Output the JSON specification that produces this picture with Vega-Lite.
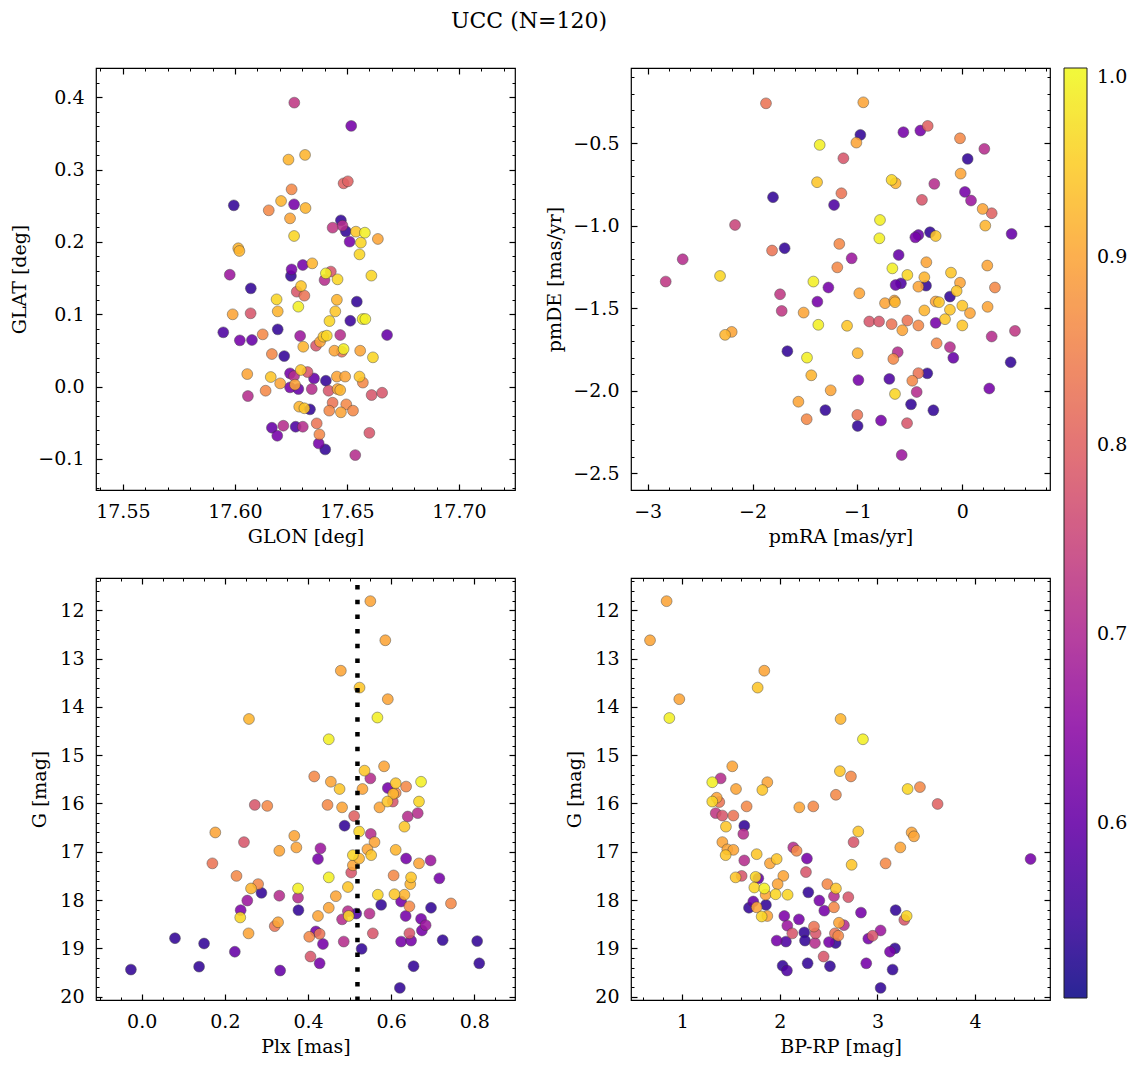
{
"$schema":"https://vega.github.io/schema/vega-lite/v6.json",
"padding":{"left":10,"top":9,"right":10,"bottom":5},
"title":{"text":"UCC (N=120)","anchor":"start","dx":355,"fontSize":22,"font":"DejaVu Serif","fontWeight":"normal","offset":34,"color":"black","frame":"group"},
"datasets":{
"p1":[
{"GLON":17.6265,"GLAT":0.3926,"p":0.73},{"GLON":17.6519,"GLAT":0.3604,"p":0.62},{"GLON":17.6239,"GLAT":0.3138,"p":0.92},{"GLON":17.6313,"GLAT":0.3203,"p":0.92},{"GLON":17.6485,"GLAT":0.281,"p":0.80},{"GLON":17.6504,"GLAT":0.2838,"p":0.80},{"GLON":17.6253,"GLAT":0.2727,"p":0.86},{"GLON":17.5995,"GLAT":0.2506,"p":0.54},{"GLON":17.6206,"GLAT":0.2566,"p":0.92},{"GLON":17.6264,"GLAT":0.252,"p":0.62},
{"GLON":17.6151,"GLAT":0.2437,"p":0.86},{"GLON":17.6315,"GLAT":0.2469,"p":0.92},{"GLON":17.6246,"GLAT":0.2326,"p":0.90},{"GLON":17.6264,"GLAT":0.2082,"p":0.96},{"GLON":17.6473,"GLAT":0.2299,"p":0.54},{"GLON":17.6436,"GLAT":0.2197,"p":0.73},{"GLON":17.648,"GLAT":0.2225,"p":0.71},{"GLON":17.6495,"GLAT":0.2147,"p":0.54},{"GLON":17.654,"GLAT":0.2142,"p":0.94},{"GLON":17.658,"GLAT":0.2128,"p":0.99},
{"GLON":17.6638,"GLAT":0.2041,"p":0.90},{"GLON":17.6512,"GLAT":0.2004,"p":0.62},{"GLON":17.6562,"GLAT":0.199,"p":0.96},{"GLON":17.6556,"GLAT":0.1828,"p":0.96},{"GLON":17.6015,"GLAT":0.1912,"p":0.92},{"GLON":17.602,"GLAT":0.1875,"p":0.92},{"GLON":17.5977,"GLAT":0.1547,"p":0.67},{"GLON":17.6253,"GLAT":0.162,"p":0.62},{"GLON":17.625,"GLAT":0.153,"p":0.54},{"GLON":17.6303,"GLAT":0.1681,"p":0.62},
{"GLON":17.6345,"GLAT":0.1704,"p":0.92},{"GLON":17.6406,"GLAT":0.1566,"p":0.99},{"GLON":17.6428,"GLAT":0.159,"p":0.78},{"GLON":17.6458,"GLAT":0.1483,"p":0.96},{"GLON":17.6609,"GLAT":0.1534,"p":0.96},{"GLON":17.64,"GLAT":0.1473,"p":0.71},{"GLON":17.6071,"GLAT":0.1358,"p":0.54},{"GLON":17.6295,"GLAT":0.139,"p":0.94},{"GLON":17.6276,"GLAT":0.1312,"p":0.78},{"GLON":17.631,"GLAT":0.1257,"p":0.83},
{"GLON":17.6186,"GLAT":0.1206,"p":0.96},{"GLON":17.6455,"GLAT":0.12,"p":0.92},{"GLON":17.6544,"GLAT":0.1174,"p":0.54},{"GLON":17.6283,"GLAT":0.1105,"p":0.99},{"GLON":17.599,"GLAT":0.0999,"p":0.90},{"GLON":17.607,"GLAT":0.1013,"p":0.78},{"GLON":17.6191,"GLAT":0.104,"p":0.92},{"GLON":17.6448,"GLAT":0.104,"p":0.94},{"GLON":17.6422,"GLAT":0.0906,"p":0.96},{"GLON":17.6515,"GLAT":0.091,"p":0.55},
{"GLON":17.657,"GLAT":0.0934,"p":0.99},{"GLON":17.6582,"GLAT":0.0934,"p":0.99},{"GLON":17.5948,"GLAT":0.075,"p":0.57},{"GLON":17.6022,"GLAT":0.0639,"p":0.62},{"GLON":17.6076,"GLAT":0.0644,"p":0.60},{"GLON":17.6124,"GLAT":0.0722,"p":0.86},{"GLON":17.6191,"GLAT":0.0791,"p":0.54},{"GLON":17.6291,"GLAT":0.07,"p":0.67},{"GLON":17.6395,"GLAT":0.069,"p":0.94},{"GLON":17.641,"GLAT":0.0704,"p":0.96},
{"GLON":17.647,"GLAT":0.0713,"p":0.71},{"GLON":17.6362,"GLAT":0.0565,"p":0.78},{"GLON":17.638,"GLAT":0.062,"p":0.90},{"GLON":17.6305,"GLAT":0.0551,"p":0.92},{"GLON":17.6679,"GLAT":0.0713,"p":0.60},{"GLON":17.6165,"GLAT":0.045,"p":0.86},{"GLON":17.622,"GLAT":0.0422,"p":0.54},{"GLON":17.6444,"GLAT":0.0496,"p":0.90},{"GLON":17.6485,"GLAT":0.0519,"p":0.99},{"GLON":17.6477,"GLAT":0.0482,"p":0.83},
{"GLON":17.6559,"GLAT":0.0496,"p":0.90},{"GLON":17.6616,"GLAT":0.0404,"p":0.96},{"GLON":17.6055,"GLAT":0.0173,"p":0.90},{"GLON":17.616,"GLAT":0.0132,"p":0.94},{"GLON":17.6202,"GLAT":0.0044,"p":0.90},{"GLON":17.6246,"GLAT":0.0183,"p":0.62},{"GLON":17.6264,"GLAT":0.0146,"p":0.71},{"GLON":17.6294,"GLAT":0.0229,"p":0.94},{"GLON":17.6324,"GLAT":0.0201,"p":0.78},{"GLON":17.6353,"GLAT":0.0113,"p":0.60},
{"GLON":17.6406,"GLAT":0.0081,"p":0.54},{"GLON":17.6246,"GLAT":-0.0011,"p":0.62},{"GLON":17.6268,"GLAT":0.0026,"p":0.90},{"GLON":17.6283,"GLAT":-0.0034,"p":0.60},{"GLON":17.6343,"GLAT":-0.0034,"p":0.71},{"GLON":17.6455,"GLAT":0.0138,"p":0.90},{"GLON":17.6492,"GLAT":0.0138,"p":0.90},{"GLON":17.6556,"GLAT":0.0138,"p":0.94},{"GLON":17.6571,"GLAT":0.0055,"p":0.86},{"GLON":17.6418,"GLAT":-0.0057,"p":0.78},
{"GLON":17.6458,"GLAT":-0.0034,"p":0.90},{"GLON":17.647,"GLAT":-0.0048,"p":0.92},{"GLON":17.6058,"GLAT":-0.0131,"p":0.71},{"GLON":17.6137,"GLAT":-0.0057,"p":0.86},{"GLON":17.661,"GLAT":-0.0117,"p":0.78},{"GLON":17.6657,"GLAT":-0.0085,"p":0.78},{"GLON":17.6287,"GLAT":-0.0278,"p":0.92},{"GLON":17.631,"GLAT":-0.03,"p":0.94},{"GLON":17.6335,"GLAT":-0.0315,"p":0.54},{"GLON":17.6436,"GLAT":-0.0223,"p":0.83},
{"GLON":17.6421,"GLAT":-0.0333,"p":0.86},{"GLON":17.6473,"GLAT":-0.0356,"p":0.90},{"GLON":17.6497,"GLAT":-0.0246,"p":0.86},{"GLON":17.6527,"GLAT":-0.0333,"p":0.86},{"GLON":17.6165,"GLAT":-0.0569,"p":0.60},{"GLON":17.6216,"GLAT":-0.0541,"p":0.71},{"GLON":17.6189,"GLAT":-0.068,"p":0.62},{"GLON":17.6271,"GLAT":-0.0555,"p":0.57},{"GLON":17.6303,"GLAT":-0.0555,"p":0.71},{"GLON":17.6365,"GLAT":-0.0509,"p":0.83},
{"GLON":17.6377,"GLAT":-0.0661,"p":0.86},{"GLON":17.6374,"GLAT":-0.0786,"p":0.62},{"GLON":17.6403,"GLAT":-0.0869,"p":0.54},{"GLON":17.66,"GLAT":-0.064,"p":0.78},{"GLON":17.6537,"GLAT":-0.0947,"p":0.71}
],
"p2":[
{"pmRA":-1.872,"pmDE":-0.258,"p":0.83},{"pmRA":-0.944,"pmDE":-0.252,"p":0.90},{"pmRA":-0.972,"pmDE":-0.449,"p":0.54},{"pmRA":-1.010,"pmDE":-0.496,"p":0.90},{"pmRA":-1.360,"pmDE":-0.510,"p":0.99},{"pmRA":-0.562,"pmDE":-0.433,"p":0.62},{"pmRA":-0.400,"pmDE":-0.423,"p":0.62},{"pmRA":-0.330,"pmDE":-0.395,"p":0.80},{"pmRA":-0.022,"pmDE":-0.470,"p":0.86},{"pmRA":0.210,"pmDE":-0.534,"p":0.71},
{"pmRA":0.051,"pmDE":-0.595,"p":0.54},{"pmRA":-1.134,"pmDE":-0.591,"p":0.78},{"pmRA":-0.016,"pmDE":-0.684,"p":0.90},{"pmRA":-1.385,"pmDE":-0.736,"p":0.94},{"pmRA":-0.674,"pmDE":-0.722,"p":0.96},{"pmRA":-0.636,"pmDE":-0.742,"p":0.92},{"pmRA":-0.267,"pmDE":-0.746,"p":0.71},{"pmRA":0.025,"pmDE":-0.795,"p":0.62},{"pmRA":0.083,"pmDE":-0.847,"p":0.67},{"pmRA":-1.153,"pmDE":-0.803,"p":0.83},
{"pmRA":-1.805,"pmDE":-0.827,"p":0.54},{"pmRA":-1.223,"pmDE":-0.874,"p":0.57},{"pmRA":-0.385,"pmDE":-0.843,"p":0.78},{"pmRA":0.194,"pmDE":-0.898,"p":0.90},{"pmRA":0.280,"pmDE":-0.924,"p":0.80},{"pmRA":0.219,"pmDE":-0.999,"p":0.92},{"pmRA":-0.785,"pmDE":-0.965,"p":0.99},{"pmRA":-0.791,"pmDE":-1.076,"p":0.99},{"pmRA":-2.167,"pmDE":-0.995,"p":0.75},{"pmRA":-0.448,"pmDE":-1.070,"p":0.62},
{"pmRA":-0.419,"pmDE":-1.056,"p":0.60},{"pmRA":-0.308,"pmDE":-1.039,"p":0.54},{"pmRA":-0.254,"pmDE":-1.062,"p":0.94},{"pmRA":0.470,"pmDE":-1.049,"p":0.60},{"pmRA":-1.814,"pmDE":-1.150,"p":0.83},{"pmRA":-1.694,"pmDE":-1.136,"p":0.54},{"pmRA":-1.173,"pmDE":-1.110,"p":0.86},{"pmRA":-2.666,"pmDE":-1.203,"p":0.71},{"pmRA":-1.055,"pmDE":-1.197,"p":0.67},{"pmRA":-0.607,"pmDE":-1.177,"p":0.60},
{"pmRA":-0.343,"pmDE":-1.221,"p":0.90},{"pmRA":-1.192,"pmDE":-1.252,"p":0.86},{"pmRA":-0.667,"pmDE":-1.258,"p":0.99},{"pmRA":-0.524,"pmDE":-1.298,"p":0.96},{"pmRA":0.238,"pmDE":-1.241,"p":0.90},{"pmRA":-0.108,"pmDE":-1.284,"p":0.94},{"pmRA":-0.362,"pmDE":-1.312,"p":0.92},{"pmRA":-2.310,"pmDE":-1.304,"p":0.96},{"pmRA":-1.420,"pmDE":-1.338,"p":0.99},{"pmRA":-2.828,"pmDE":-1.338,"p":0.73},
{"pmRA":-1.277,"pmDE":-1.374,"p":0.62},{"pmRA":-0.636,"pmDE":-1.359,"p":0.60},{"pmRA":-0.585,"pmDE":-1.349,"p":0.57},{"pmRA":-0.419,"pmDE":-1.369,"p":0.90},{"pmRA":-0.346,"pmDE":-1.363,"p":0.54},{"pmRA":-0.022,"pmDE":-1.345,"p":0.90},{"pmRA":-0.054,"pmDE":-1.395,"p":0.94},{"pmRA":-0.118,"pmDE":-1.429,"p":0.54},{"pmRA":0.311,"pmDE":-1.374,"p":0.86},{"pmRA":-1.738,"pmDE":-1.415,"p":0.73},
{"pmRA":-1.722,"pmDE":-1.516,"p":0.73},{"pmRA":-1.382,"pmDE":-1.460,"p":0.62},{"pmRA":-1.513,"pmDE":-1.526,"p":0.90},{"pmRA":-0.982,"pmDE":-1.409,"p":0.90},{"pmRA":-0.737,"pmDE":-1.469,"p":0.90},{"pmRA":-0.648,"pmDE":-1.453,"p":0.90},{"pmRA":-0.642,"pmDE":-1.463,"p":0.92},{"pmRA":-0.254,"pmDE":-1.459,"p":0.90},{"pmRA":-0.222,"pmDE":-1.463,"p":0.94},{"pmRA":0.000,"pmDE":-1.484,"p":0.94},
{"pmRA":0.241,"pmDE":-1.491,"p":0.90},{"pmRA":-0.362,"pmDE":-1.513,"p":0.92},{"pmRA":-0.118,"pmDE":-1.509,"p":0.94},{"pmRA":0.073,"pmDE":-1.529,"p":0.90},{"pmRA":-1.373,"pmDE":-1.600,"p":0.99},{"pmRA":-1.099,"pmDE":-1.606,"p":0.94},{"pmRA":-0.887,"pmDE":-1.580,"p":0.78},{"pmRA":-0.794,"pmDE":-1.580,"p":0.78},{"pmRA":-0.674,"pmDE":-1.596,"p":0.83},{"pmRA":-0.572,"pmDE":-1.633,"p":0.90},
{"pmRA":-0.524,"pmDE":-1.574,"p":0.83},{"pmRA":-0.419,"pmDE":-1.604,"p":0.86},{"pmRA":-0.254,"pmDE":-1.588,"p":0.62},{"pmRA":-0.165,"pmDE":-1.566,"p":0.94},{"pmRA":0.000,"pmDE":-1.604,"p":0.94},{"pmRA":-2.262,"pmDE":-1.661,"p":0.92},{"pmRA":-2.199,"pmDE":-1.643,"p":0.90},{"pmRA":0.280,"pmDE":-1.671,"p":0.71},{"pmRA":0.502,"pmDE":-1.637,"p":0.73},{"pmRA":-0.245,"pmDE":-1.712,"p":0.86},
{"pmRA":-1.668,"pmDE":-1.760,"p":0.54},{"pmRA":-0.998,"pmDE":-1.772,"p":0.92},{"pmRA":-0.616,"pmDE":-1.766,"p":0.71},{"pmRA":-0.658,"pmDE":-1.807,"p":0.86},{"pmRA":-0.118,"pmDE":-1.735,"p":0.71},{"pmRA":-0.086,"pmDE":-1.800,"p":0.60},{"pmRA":0.461,"pmDE":-1.827,"p":0.54},{"pmRA":-1.481,"pmDE":-1.799,"p":0.99},{"pmRA":-1.440,"pmDE":-1.906,"p":0.92},{"pmRA":-0.991,"pmDE":-1.935,"p":0.62},
{"pmRA":-0.696,"pmDE":-1.928,"p":0.57},{"pmRA":-0.419,"pmDE":-1.893,"p":0.83},{"pmRA":-0.477,"pmDE":-1.939,"p":0.86},{"pmRA":-0.334,"pmDE":-1.894,"p":0.54},{"pmRA":-1.255,"pmDE":-1.997,"p":0.90},{"pmRA":-0.642,"pmDE":-2.019,"p":0.96},{"pmRA":-0.435,"pmDE":-2.007,"p":0.71},{"pmRA":0.257,"pmDE":-1.986,"p":0.62},{"pmRA":-1.563,"pmDE":-2.066,"p":0.90},{"pmRA":-1.306,"pmDE":-2.117,"p":0.54},
{"pmRA":-1.484,"pmDE":-2.172,"p":0.86},{"pmRA":-0.489,"pmDE":-2.082,"p":0.54},{"pmRA":-0.276,"pmDE":-2.118,"p":0.54},{"pmRA":-1.001,"pmDE":-2.146,"p":0.83},{"pmRA":-0.998,"pmDE":-2.213,"p":0.54},{"pmRA":-0.775,"pmDE":-2.180,"p":0.62},{"pmRA":-0.527,"pmDE":-2.196,"p":0.78},{"pmRA":-0.578,"pmDE":-2.389,"p":0.67}
],
"p3":[
{"Plx":0.550,"G":11.81,"p":0.90},{"Plx":0.586,"G":12.62,"p":0.90},{"Plx":0.479,"G":13.25,"p":0.90},{"Plx":0.524,"G":13.60,"p":0.94},{"Plx":0.592,"G":13.84,"p":0.90},{"Plx":0.258,"G":14.25,"p":0.92},{"Plx":0.567,"G":14.22,"p":0.99},{"Plx":0.450,"G":14.67,"p":0.99},{"Plx":0.583,"G":15.23,"p":0.90},{"Plx":0.536,"G":15.32,"p":0.94},
{"Plx":0.550,"G":15.48,"p":0.71},{"Plx":0.415,"G":15.44,"p":0.86},{"Plx":0.455,"G":15.55,"p":0.90},{"Plx":0.672,"G":15.55,"p":0.99},{"Plx":0.476,"G":15.70,"p":0.94},{"Plx":0.531,"G":15.70,"p":0.90},{"Plx":0.592,"G":15.68,"p":0.62},{"Plx":0.611,"G":15.58,"p":0.94},{"Plx":0.636,"G":15.65,"p":0.86},{"Plx":0.447,"G":16.03,"p":0.86},
{"Plx":0.605,"G":15.80,"p":0.92},{"Plx":0.611,"G":15.78,"p":0.86},{"Plx":0.272,"G":16.03,"p":0.78},{"Plx":0.302,"G":16.05,"p":0.86},{"Plx":0.482,"G":16.08,"p":0.90},{"Plx":0.511,"G":16.26,"p":0.80},{"Plx":0.572,"G":16.08,"p":0.90},{"Plx":0.591,"G":15.96,"p":0.94},{"Plx":0.604,"G":15.96,"p":0.78},{"Plx":0.667,"G":15.96,"p":0.96},
{"Plx":0.640,"G":16.27,"p":0.71},{"Plx":0.664,"G":16.20,"p":0.71},{"Plx":0.488,"G":16.46,"p":0.54},{"Plx":0.523,"G":16.58,"p":0.96},{"Plx":0.551,"G":16.63,"p":0.71},{"Plx":0.560,"G":16.80,"p":0.90},{"Plx":0.632,"G":16.48,"p":0.94},{"Plx":0.177,"G":16.60,"p":0.90},{"Plx":0.246,"G":16.80,"p":0.78},{"Plx":0.367,"G":16.67,"p":0.90},
{"Plx":0.372,"G":16.91,"p":0.90},{"Plx":0.331,"G":16.98,"p":0.90},{"Plx":0.430,"G":16.93,"p":0.67},{"Plx":0.424,"G":17.15,"p":0.62},{"Plx":0.543,"G":16.95,"p":0.90},{"Plx":0.508,"G":17.07,"p":0.96},{"Plx":0.523,"G":17.14,"p":0.92},{"Plx":0.552,"G":17.07,"p":0.94},{"Plx":0.611,"G":16.96,"p":0.92},{"Plx":0.636,"G":17.14,"p":0.62},
{"Plx":0.667,"G":17.24,"p":0.90},{"Plx":0.695,"G":17.18,"p":0.67},{"Plx":0.170,"G":17.24,"p":0.83},{"Plx":0.508,"G":17.28,"p":0.90},{"Plx":0.504,"G":17.43,"p":0.78},{"Plx":0.228,"G":17.50,"p":0.86},{"Plx":0.606,"G":17.49,"p":0.86},{"Plx":0.648,"G":17.53,"p":0.94},{"Plx":0.646,"G":17.67,"p":0.92},{"Plx":0.450,"G":17.53,"p":0.99},
{"Plx":0.716,"G":17.55,"p":0.62},{"Plx":0.263,"G":17.76,"p":0.92},{"Plx":0.280,"G":17.67,"p":0.86},{"Plx":0.288,"G":17.85,"p":0.54},{"Plx":0.376,"G":17.76,"p":0.99},{"Plx":0.331,"G":17.91,"p":0.71},{"Plx":0.376,"G":17.95,"p":0.71},{"Plx":0.467,"G":17.92,"p":0.90},{"Plx":0.496,"G":17.73,"p":0.94},{"Plx":0.568,"G":17.89,"p":0.96},
{"Plx":0.608,"G":17.88,"p":0.94},{"Plx":0.632,"G":17.89,"p":0.92},{"Plx":0.254,"G":18.01,"p":0.67},{"Plx":0.238,"G":18.21,"p":0.63},{"Plx":0.237,"G":18.36,"p":0.96},{"Plx":0.377,"G":18.21,"p":0.54},{"Plx":0.450,"G":18.16,"p":0.90},{"Plx":0.424,"G":18.33,"p":0.90},{"Plx":0.496,"G":18.23,"p":0.71},{"Plx":0.498,"G":18.33,"p":0.96},
{"Plx":0.516,"G":18.28,"p":0.57},{"Plx":0.548,"G":18.28,"p":0.71},{"Plx":0.576,"G":18.10,"p":0.54},{"Plx":0.624,"G":18.03,"p":0.62},{"Plx":0.644,"G":18.13,"p":0.86},{"Plx":0.696,"G":18.16,"p":0.54},{"Plx":0.744,"G":18.07,"p":0.86},{"Plx":0.635,"G":18.33,"p":0.62},{"Plx":0.672,"G":18.39,"p":0.62},{"Plx":0.683,"G":18.52,"p":0.67},
{"Plx":0.674,"G":18.63,"p":0.62},{"Plx":0.328,"G":18.46,"p":0.90},{"Plx":0.320,"G":18.54,"p":0.83},{"Plx":0.482,"G":18.40,"p":0.71},{"Plx":0.257,"G":18.69,"p":0.90},{"Plx":0.080,"G":18.79,"p":0.54},{"Plx":0.150,"G":18.90,"p":0.54},{"Plx":0.224,"G":19.07,"p":0.60},{"Plx":0.403,"G":18.76,"p":0.86},{"Plx":0.419,"G":18.65,"p":0.62},
{"Plx":0.428,"G":18.70,"p":0.83},{"Plx":0.436,"G":18.91,"p":0.62},{"Plx":0.486,"G":18.86,"p":0.71},{"Plx":0.529,"G":19.01,"p":0.54},{"Plx":0.556,"G":18.69,"p":0.78},{"Plx":0.624,"G":18.86,"p":0.62},{"Plx":0.648,"G":18.84,"p":0.62},{"Plx":0.644,"G":18.69,"p":0.78},{"Plx":0.724,"G":18.83,"p":0.54},{"Plx":0.807,"G":18.85,"p":0.54},
{"Plx":-0.026,"G":19.44,"p":0.54},{"Plx":0.138,"G":19.38,"p":0.54},{"Plx":0.333,"G":19.46,"p":0.60},{"Plx":0.406,"G":19.17,"p":0.78},{"Plx":0.428,"G":19.31,"p":0.62},{"Plx":0.654,"G":19.37,"p":0.54},{"Plx":0.812,"G":19.31,"p":0.54},{"Plx":0.621,"G":19.82,"p":0.54}
],
"p4":[
{"BPRP":0.839,"G":11.81,"p":0.90},{"BPRP":0.669,"G":12.62,"p":0.90},{"BPRP":1.840,"G":13.25,"p":0.90},{"BPRP":1.772,"G":13.60,"p":0.94},{"BPRP":0.969,"G":13.84,"p":0.90},{"BPRP":0.867,"G":14.23,"p":0.99},{"BPRP":2.622,"G":14.25,"p":0.92},{"BPRP":2.851,"G":14.67,"p":0.99},{"BPRP":1.512,"G":15.23,"p":0.90},{"BPRP":2.615,"G":15.33,"p":0.94},
{"BPRP":2.728,"G":15.44,"p":0.86},{"BPRP":1.393,"G":15.48,"p":0.71},{"BPRP":1.307,"G":15.56,"p":0.99},{"BPRP":1.871,"G":15.56,"p":0.90},{"BPRP":1.550,"G":15.70,"p":0.90},{"BPRP":1.820,"G":15.72,"p":0.94},{"BPRP":3.309,"G":15.70,"p":0.96},{"BPRP":3.435,"G":15.66,"p":0.86},{"BPRP":1.352,"G":15.88,"p":0.90},{"BPRP":1.379,"G":15.97,"p":0.83},
{"BPRP":2.574,"G":15.82,"p":0.86},{"BPRP":3.616,"G":16.01,"p":0.80},{"BPRP":1.307,"G":15.96,"p":0.96},{"BPRP":1.659,"G":16.06,"p":0.86},{"BPRP":2.199,"G":16.08,"p":0.90},{"BPRP":2.342,"G":16.06,"p":0.86},{"BPRP":1.342,"G":16.20,"p":0.73},{"BPRP":1.410,"G":16.25,"p":0.78},{"BPRP":1.523,"G":16.25,"p":0.83},{"BPRP":1.635,"G":16.46,"p":0.54},
{"BPRP":1.625,"G":16.63,"p":0.71},{"BPRP":1.447,"G":16.48,"p":0.94},{"BPRP":2.803,"G":16.58,"p":0.94},{"BPRP":2.755,"G":16.80,"p":0.78},{"BPRP":3.350,"G":16.60,"p":0.90},{"BPRP":3.374,"G":16.68,"p":0.90},{"BPRP":3.234,"G":16.91,"p":0.90},{"BPRP":1.410,"G":16.80,"p":0.90},{"BPRP":1.461,"G":16.95,"p":0.90},{"BPRP":1.523,"G":16.96,"p":0.90},
{"BPRP":1.444,"G":17.07,"p":0.94},{"BPRP":1.762,"G":17.05,"p":0.94},{"BPRP":1.635,"G":17.18,"p":0.71},{"BPRP":1.898,"G":17.24,"p":0.90},{"BPRP":1.967,"G":17.15,"p":0.94},{"BPRP":2.137,"G":16.91,"p":0.71},{"BPRP":2.171,"G":16.98,"p":0.86},{"BPRP":2.277,"G":17.14,"p":0.62},{"BPRP":2.267,"G":17.42,"p":0.78},{"BPRP":2.735,"G":17.27,"p":0.94},
{"BPRP":3.083,"G":17.24,"p":0.86},{"BPRP":4.569,"G":17.15,"p":0.62},{"BPRP":1.546,"G":17.53,"p":0.94},{"BPRP":1.608,"G":17.50,"p":0.78},{"BPRP":1.751,"G":17.52,"p":0.96},{"BPRP":1.779,"G":17.55,"p":0.60},{"BPRP":2.035,"G":17.50,"p":0.90},{"BPRP":1.977,"G":17.67,"p":0.90},{"BPRP":1.738,"G":17.74,"p":0.96},{"BPRP":1.840,"G":17.76,"p":0.99},
{"BPRP":1.854,"G":17.89,"p":0.90},{"BPRP":1.956,"G":17.88,"p":0.96},{"BPRP":2.079,"G":17.89,"p":0.96},{"BPRP":2.486,"G":17.67,"p":0.86},{"BPRP":2.574,"G":17.76,"p":0.94},{"BPRP":2.291,"G":17.84,"p":0.54},{"BPRP":2.404,"G":18.01,"p":0.62},{"BPRP":2.554,"G":17.92,"p":0.71},{"BPRP":2.701,"G":17.94,"p":0.78},{"BPRP":2.455,"G":18.22,"p":0.62},
{"BPRP":2.554,"G":18.15,"p":0.86},{"BPRP":1.727,"G":18.03,"p":0.60},{"BPRP":1.683,"G":18.16,"p":0.54},{"BPRP":1.857,"G":18.10,"p":0.54},{"BPRP":1.762,"G":18.15,"p":0.90},{"BPRP":1.813,"G":18.34,"p":0.96},{"BPRP":1.871,"G":18.33,"p":0.90},{"BPRP":2.831,"G":18.26,"p":0.62},{"BPRP":3.186,"G":18.21,"p":0.54},{"BPRP":3.275,"G":18.41,"p":0.78},
{"BPRP":3.299,"G":18.33,"p":0.96},{"BPRP":2.045,"G":18.33,"p":0.63},{"BPRP":2.195,"G":18.40,"p":0.62},{"BPRP":2.076,"G":18.53,"p":0.67},{"BPRP":2.127,"G":18.69,"p":0.78},{"BPRP":1.967,"G":18.84,"p":0.62},{"BPRP":2.062,"G":18.86,"p":0.57},{"BPRP":2.250,"G":18.67,"p":0.54},{"BPRP":2.257,"G":18.84,"p":0.54},{"BPRP":2.349,"G":18.55,"p":0.83},
{"BPRP":2.366,"G":18.69,"p":0.78},{"BPRP":2.359,"G":18.89,"p":0.71},{"BPRP":2.503,"G":18.87,"p":0.62},{"BPRP":2.571,"G":18.89,"p":0.54},{"BPRP":2.564,"G":18.69,"p":0.83},{"BPRP":2.598,"G":18.74,"p":0.86},{"BPRP":2.605,"G":18.47,"p":0.90},{"BPRP":2.656,"G":18.52,"p":0.71},{"BPRP":2.448,"G":19.17,"p":0.78},{"BPRP":2.028,"G":19.36,"p":0.54},
{"BPRP":2.072,"G":19.46,"p":0.57},{"BPRP":2.284,"G":19.31,"p":0.54},{"BPRP":2.513,"G":19.37,"p":0.54},{"BPRP":2.906,"G":18.80,"p":0.62},{"BPRP":2.950,"G":18.74,"p":0.78},{"BPRP":3.032,"G":18.63,"p":0.67},{"BPRP":2.885,"G":19.31,"p":0.62},{"BPRP":3.128,"G":19.07,"p":0.62},{"BPRP":3.179,"G":19.00,"p":0.54},{"BPRP":3.155,"G":19.44,"p":0.54},
{"BPRP":3.032,"G":19.82,"p":0.54}
]
},
"columns":2,
"spacing":{"row":88,"column":116},
"bounds":"flush",
"resolve":{"scale":{"color":"shared"},"legend":{"color":"shared"}},
"concat":[
{"width":419,"height":422,"data":{"name":"p1"},
 "resolve":{"axis":{"x":"independent","y":"independent"}},
 "layer":[
  {"mark":{"type":"circle","size":118,"opacity":0.88,"stroke":"#3a3a3a","strokeWidth":0.5},
   "encoding":{
    "x":{"field":"GLON","type":"quantitative","scale":{"domain":[17.538,17.725],"nice":false,"zero":false},"axis":{"orient":"bottom","values":[17.55,17.6,17.65,17.7],"format":".2f","ticks":false,"labelPadding":12,"title":"GLON [deg]","titlePadding":6}},
    "y":{"field":"GLAT","type":"quantitative","scale":{"domain":[-0.143,0.4405],"nice":false,"zero":false},"axis":{"orient":"left","values":[-0.1,0,0.1,0.2,0.3,0.4],"format":".1f","ticks":false,"labelPadding":12,"title":"GLAT [deg]","titlePadding":8}},
    "color":{"field":"p","type":"quantitative","scale":{"scheme":"plasma","domain":[0.507,1]},"legend":{"orient":"none","legendX":968,"legendY":0,"title":null,"direction":"vertical","gradientLength":930,"gradientThickness":23,"values":[0.6,0.7,0.8,0.9,1.0],"format":".1f","labelOffset":10,"labelBaseline":"middle","labelOverlap":false,"gradientStrokeColor":"black","gradientStrokeWidth":1}},
    "order":{"field":"p","type":"quantitative"}}},
  {"mark":{"type":"point","opacity":0},
   "encoding":{
    "x":{"field":"GLON","type":"quantitative","scale":{"domain":[17.538,17.725],"nice":false,"zero":false},"axis":{"orient":"bottom","values":[17.55,17.6,17.65,17.7],"labels":false,"title":null,"tickSize":-6}},
    "y":{"field":"GLAT","type":"quantitative","scale":{"domain":[-0.143,0.4405],"nice":false,"zero":false},"axis":{"orient":"left","values":[-0.1,0,0.1,0.2,0.3,0.4],"labels":false,"title":null,"tickSize":-6}}}},
  {"mark":{"type":"point","opacity":0},
   "encoding":{
    "x":{"field":"GLON","type":"quantitative","scale":{"domain":[17.538,17.725],"nice":false,"zero":false},"axis":{"orient":"bottom","values":[17.54,17.56,17.57,17.58,17.59,17.61,17.62,17.63,17.64,17.66,17.67,17.68,17.69,17.71,17.72],"labels":false,"title":null,"tickSize":-3,"tickWidth":1}},
    "y":{"field":"GLAT","type":"quantitative","scale":{"domain":[-0.143,0.4405],"nice":false,"zero":false},"axis":{"orient":"left","values":[-0.14,-0.12,-0.08,-0.06,-0.04,-0.02,0.02,0.04,0.06,0.08,0.12,0.14,0.16,0.18,0.22,0.24,0.26,0.28,0.32,0.34,0.36,0.38,0.42,0.44],"labels":false,"title":null,"tickSize":-3,"tickWidth":1}}}},
  {"mark":{"type":"point","opacity":0},
   "encoding":{
    "x":{"field":"GLON","type":"quantitative","scale":{"domain":[17.538,17.725],"nice":false,"zero":false},"axis":{"orient":"top","values":[17.55,17.6,17.65,17.7],"labels":false,"title":null,"tickSize":-6}},
    "y":{"field":"GLAT","type":"quantitative","scale":{"domain":[-0.143,0.4405],"nice":false,"zero":false},"axis":{"orient":"right","values":[-0.1,0,0.1,0.2,0.3,0.4],"labels":false,"title":null,"tickSize":-6}}}},
  {"mark":{"type":"point","opacity":0},
   "encoding":{
    "x":{"field":"GLON","type":"quantitative","scale":{"domain":[17.538,17.725],"nice":false,"zero":false},"axis":{"orient":"top","values":[17.54,17.56,17.57,17.58,17.59,17.61,17.62,17.63,17.64,17.66,17.67,17.68,17.69,17.71,17.72],"labels":false,"title":null,"tickSize":-3,"tickWidth":1}},
    "y":{"field":"GLAT","type":"quantitative","scale":{"domain":[-0.143,0.4405],"nice":false,"zero":false},"axis":{"orient":"right","values":[-0.14,-0.12,-0.08,-0.06,-0.04,-0.02,0.02,0.04,0.06,0.08,0.12,0.14,0.16,0.18,0.22,0.24,0.26,0.28,0.32,0.34,0.36,0.38,0.42,0.44],"labels":false,"title":null,"tickSize":-3,"tickWidth":1}}}}
 ]},
{"width":419,"height":422,"data":{"name":"p2"},
 "resolve":{"axis":{"x":"independent","y":"independent"}},
 "layer":[
  {"mark":{"type":"circle","size":118,"opacity":0.88,"stroke":"#3a3a3a","strokeWidth":0.5},
   "encoding":{
    "x":{"field":"pmRA","type":"quantitative","scale":{"domain":[-3.159,0.836],"nice":false,"zero":false},"axis":{"orient":"bottom","values":[-3,-2,-1,0],"format":"d","ticks":false,"labelPadding":12,"title":"pmRA [mas/yr]","titlePadding":6}},
    "y":{"field":"pmDE","type":"quantitative","scale":{"domain":[-2.601,-0.044],"nice":false,"zero":false},"axis":{"orient":"left","values":[-2.5,-2,-1.5,-1,-0.5],"format":".1f","ticks":false,"labelPadding":12,"title":"pmDE [mas/yr]","titlePadding":8}},
    "color":{"field":"p","type":"quantitative","scale":{"scheme":"plasma","domain":[0.507,1]},"legend":{"orient":"none","legendX":968,"legendY":0,"title":null,"direction":"vertical","gradientLength":930,"gradientThickness":23,"values":[0.6,0.7,0.8,0.9,1.0],"format":".1f","labelOffset":10,"labelBaseline":"middle","labelOverlap":false,"gradientStrokeColor":"black","gradientStrokeWidth":1}},
    "order":{"field":"p","type":"quantitative"}}},
  {"mark":{"type":"point","opacity":0},
   "encoding":{
    "x":{"field":"pmRA","type":"quantitative","scale":{"domain":[-3.159,0.836],"nice":false,"zero":false},"axis":{"orient":"bottom","values":[-3,-2,-1,0],"labels":false,"title":null,"tickSize":-6}},
    "y":{"field":"pmDE","type":"quantitative","scale":{"domain":[-2.601,-0.044],"nice":false,"zero":false},"axis":{"orient":"left","values":[-2.5,-2,-1.5,-1,-0.5],"labels":false,"title":null,"tickSize":-6}}}},
  {"mark":{"type":"point","opacity":0},
   "encoding":{
    "x":{"field":"pmRA","type":"quantitative","scale":{"domain":[-3.159,0.836],"nice":false,"zero":false},"axis":{"orient":"bottom","values":[-2.8,-2.6,-2.4,-2.2,-1.8,-1.6,-1.4,-1.2,-0.8,-0.6,-0.4,-0.2,0.2,0.4,0.6,0.8],"labels":false,"title":null,"tickSize":-3,"tickWidth":1}},
    "y":{"field":"pmDE","type":"quantitative","scale":{"domain":[-2.601,-0.044],"nice":false,"zero":false},"axis":{"orient":"left","values":[-2.4,-2.3,-2.2,-2.1,-1.9,-1.8,-1.7,-1.6,-1.4,-1.3,-1.2,-1.1,-0.9,-0.8,-0.7,-0.6,-0.4,-0.3,-0.2,-0.1],"labels":false,"title":null,"tickSize":-3,"tickWidth":1}}}},
  {"mark":{"type":"point","opacity":0},
   "encoding":{
    "x":{"field":"pmRA","type":"quantitative","scale":{"domain":[-3.159,0.836],"nice":false,"zero":false},"axis":{"orient":"top","values":[-3,-2,-1,0],"labels":false,"title":null,"tickSize":-6}},
    "y":{"field":"pmDE","type":"quantitative","scale":{"domain":[-2.601,-0.044],"nice":false,"zero":false},"axis":{"orient":"right","values":[-2.5,-2,-1.5,-1,-0.5],"labels":false,"title":null,"tickSize":-6}}}},
  {"mark":{"type":"point","opacity":0},
   "encoding":{
    "x":{"field":"pmRA","type":"quantitative","scale":{"domain":[-3.159,0.836],"nice":false,"zero":false},"axis":{"orient":"top","values":[-2.8,-2.6,-2.4,-2.2,-1.8,-1.6,-1.4,-1.2,-0.8,-0.6,-0.4,-0.2,0.2,0.4,0.6,0.8],"labels":false,"title":null,"tickSize":-3,"tickWidth":1}},
    "y":{"field":"pmDE","type":"quantitative","scale":{"domain":[-2.601,-0.044],"nice":false,"zero":false},"axis":{"orient":"right","values":[-2.4,-2.3,-2.2,-2.1,-1.9,-1.8,-1.7,-1.6,-1.4,-1.3,-1.2,-1.1,-0.9,-0.8,-0.7,-0.6,-0.4,-0.3,-0.2,-0.1],"labels":false,"title":null,"tickSize":-3,"tickWidth":1}}}}
 ]},
{"width":419,"height":422,"data":{"name":"p3"},
 "resolve":{"axis":{"x":"independent","y":"independent"}},
 "layer":[
  {"mark":{"type":"circle","size":118,"opacity":0.88,"stroke":"#3a3a3a","strokeWidth":0.5},
   "encoding":{
    "x":{"field":"Plx","type":"quantitative","scale":{"domain":[-0.11,0.898],"nice":false,"zero":false},"axis":{"orient":"bottom","values":[0,0.2,0.4,0.6,0.8],"format":".1f","ticks":false,"labelPadding":12,"title":"Plx [mas]","titlePadding":6}},
    "y":{"field":"G","type":"quantitative","scale":{"domain":[11.33,20.07],"nice":false,"zero":false,"reverse":true},"axis":{"orient":"left","values":[12,13,14,15,16,17,18,19,20],"format":"d","ticks":false,"labelPadding":12,"title":"G [mag]","titlePadding":10}},
    "color":{"field":"p","type":"quantitative","scale":{"scheme":"plasma","domain":[0.507,1]},"legend":{"orient":"none","legendX":968,"legendY":0,"title":null,"direction":"vertical","gradientLength":930,"gradientThickness":23,"values":[0.6,0.7,0.8,0.9,1.0],"format":".1f","labelOffset":10,"labelBaseline":"middle","labelOverlap":false,"gradientStrokeColor":"black","gradientStrokeWidth":1}},
    "order":{"field":"p","type":"quantitative"}}},
  {"mark":{"type":"point","opacity":0},
   "encoding":{
    "x":{"field":"Plx","type":"quantitative","scale":{"domain":[-0.11,0.898],"nice":false,"zero":false},"axis":{"orient":"bottom","values":[0,0.2,0.4,0.6,0.8],"labels":false,"title":null,"tickSize":-6}},
    "y":{"field":"G","type":"quantitative","scale":{"domain":[11.33,20.07],"nice":false,"zero":false,"reverse":true},"axis":{"orient":"left","values":[12,13,14,15,16,17,18,19,20],"labels":false,"title":null,"tickSize":-6}}}},
  {"mark":{"type":"point","opacity":0},
   "encoding":{
    "x":{"field":"Plx","type":"quantitative","scale":{"domain":[-0.11,0.898],"nice":false,"zero":false},"axis":{"orient":"bottom","values":[-0.1,-0.05,0.05,0.1,0.15,0.25,0.3,0.35,0.45,0.5,0.55,0.65,0.7,0.75,0.85],"labels":false,"title":null,"tickSize":-3,"tickWidth":1}},
    "y":{"field":"G","type":"quantitative","scale":{"domain":[11.33,20.07],"nice":false,"zero":false,"reverse":true},"axis":{"orient":"left","values":[11.4,11.6,11.8,12.2,12.4,12.6,12.8,13.2,13.4,13.6,13.8,14.2,14.4,14.6,14.8,15.2,15.4,15.6,15.8,16.2,16.4,16.6,16.8,17.2,17.4,17.6,17.8,18.2,18.4,18.6,18.8,19.2,19.4,19.6,19.8],"labels":false,"title":null,"tickSize":-3,"tickWidth":1}}}},
  {"mark":{"type":"point","opacity":0},
   "encoding":{
    "x":{"field":"Plx","type":"quantitative","scale":{"domain":[-0.11,0.898],"nice":false,"zero":false},"axis":{"orient":"top","values":[0,0.2,0.4,0.6,0.8],"labels":false,"title":null,"tickSize":-6}},
    "y":{"field":"G","type":"quantitative","scale":{"domain":[11.33,20.07],"nice":false,"zero":false,"reverse":true},"axis":{"orient":"right","values":[12,13,14,15,16,17,18,19,20],"labels":false,"title":null,"tickSize":-6}}}},
  {"mark":{"type":"point","opacity":0},
   "encoding":{
    "x":{"field":"Plx","type":"quantitative","scale":{"domain":[-0.11,0.898],"nice":false,"zero":false},"axis":{"orient":"top","values":[-0.1,-0.05,0.05,0.1,0.15,0.25,0.3,0.35,0.45,0.5,0.55,0.65,0.7,0.75,0.85],"labels":false,"title":null,"tickSize":-3,"tickWidth":1}},
    "y":{"field":"G","type":"quantitative","scale":{"domain":[11.33,20.07],"nice":false,"zero":false,"reverse":true},"axis":{"orient":"right","values":[11.4,11.6,11.8,12.2,12.4,12.6,12.8,13.2,13.4,13.6,13.8,14.2,14.4,14.6,14.8,15.2,15.4,15.6,15.8,16.2,16.4,16.6,16.8,17.2,17.4,17.6,17.8,18.2,18.4,18.6,18.8,19.2,19.4,19.6,19.8],"labels":false,"title":null,"tickSize":-3,"tickWidth":1}}}},
  {"data":{"values":[{"Plx_cluster":0.519}]},
   "mark":{"type":"rule","color":"black","strokeWidth":4.5,"strokeDash":[4.5,10.2],"strokeCap":"butt","strokeDashOffset":-7},
   "encoding":{"x":{"field":"Plx_cluster","type":"quantitative","scale":{"domain":[-0.11,0.898],"nice":false,"zero":false},"axis":null}}}
 ]},
{"width":419,"height":422,"data":{"name":"p4"},
 "resolve":{"axis":{"x":"independent","y":"independent"}},
 "layer":[
  {"mark":{"type":"circle","size":118,"opacity":0.88,"stroke":"#3a3a3a","strokeWidth":0.5},
   "encoding":{
    "x":{"field":"BPRP","type":"quantitative","scale":{"domain":[0.474,4.768],"nice":false,"zero":false},"axis":{"orient":"bottom","values":[1,2,3,4],"format":"d","ticks":false,"labelPadding":12,"title":"BP-RP [mag]","titlePadding":6}},
    "y":{"field":"G","type":"quantitative","scale":{"domain":[11.33,20.07],"nice":false,"zero":false,"reverse":true},"axis":{"orient":"left","values":[12,13,14,15,16,17,18,19,20],"format":"d","ticks":false,"labelPadding":12,"title":"G [mag]","titlePadding":10}},
    "color":{"field":"p","type":"quantitative","scale":{"scheme":"plasma","domain":[0.507,1]},"legend":{"orient":"none","legendX":968,"legendY":0,"title":null,"direction":"vertical","gradientLength":930,"gradientThickness":23,"values":[0.6,0.7,0.8,0.9,1.0],"format":".1f","labelOffset":10,"labelBaseline":"middle","labelOverlap":false,"gradientStrokeColor":"black","gradientStrokeWidth":1}},
    "order":{"field":"p","type":"quantitative"}}},
  {"mark":{"type":"point","opacity":0},
   "encoding":{
    "x":{"field":"BPRP","type":"quantitative","scale":{"domain":[0.474,4.768],"nice":false,"zero":false},"axis":{"orient":"bottom","values":[1,2,3,4],"labels":false,"title":null,"tickSize":-6}},
    "y":{"field":"G","type":"quantitative","scale":{"domain":[11.33,20.07],"nice":false,"zero":false,"reverse":true},"axis":{"orient":"left","values":[12,13,14,15,16,17,18,19,20],"labels":false,"title":null,"tickSize":-6}}}},
  {"mark":{"type":"point","opacity":0},
   "encoding":{
    "x":{"field":"BPRP","type":"quantitative","scale":{"domain":[0.474,4.768],"nice":false,"zero":false},"axis":{"orient":"bottom","values":[0.6,0.8,1.2,1.4,1.6,1.8,2.2,2.4,2.6,2.8,3.2,3.4,3.6,3.8,4.2,4.4,4.6],"labels":false,"title":null,"tickSize":-3,"tickWidth":1}},
    "y":{"field":"G","type":"quantitative","scale":{"domain":[11.33,20.07],"nice":false,"zero":false,"reverse":true},"axis":{"orient":"left","values":[11.4,11.6,11.8,12.2,12.4,12.6,12.8,13.2,13.4,13.6,13.8,14.2,14.4,14.6,14.8,15.2,15.4,15.6,15.8,16.2,16.4,16.6,16.8,17.2,17.4,17.6,17.8,18.2,18.4,18.6,18.8,19.2,19.4,19.6,19.8],"labels":false,"title":null,"tickSize":-3,"tickWidth":1}}}},
  {"mark":{"type":"point","opacity":0},
   "encoding":{
    "x":{"field":"BPRP","type":"quantitative","scale":{"domain":[0.474,4.768],"nice":false,"zero":false},"axis":{"orient":"top","values":[1,2,3,4],"labels":false,"title":null,"tickSize":-6}},
    "y":{"field":"G","type":"quantitative","scale":{"domain":[11.33,20.07],"nice":false,"zero":false,"reverse":true},"axis":{"orient":"right","values":[12,13,14,15,16,17,18,19,20],"labels":false,"title":null,"tickSize":-6}}}},
  {"mark":{"type":"point","opacity":0},
   "encoding":{
    "x":{"field":"BPRP","type":"quantitative","scale":{"domain":[0.474,4.768],"nice":false,"zero":false},"axis":{"orient":"top","values":[0.6,0.8,1.2,1.4,1.6,1.8,2.2,2.4,2.6,2.8,3.2,3.4,3.6,3.8,4.2,4.4,4.6],"labels":false,"title":null,"tickSize":-3,"tickWidth":1}},
    "y":{"field":"G","type":"quantitative","scale":{"domain":[11.33,20.07],"nice":false,"zero":false,"reverse":true},"axis":{"orient":"right","values":[11.4,11.6,11.8,12.2,12.4,12.6,12.8,13.2,13.4,13.6,13.8,14.2,14.4,14.6,14.8,15.2,15.4,15.6,15.8,16.2,16.4,16.6,16.8,17.2,17.4,17.6,17.8,18.2,18.4,18.6,18.8,19.2,19.4,19.6,19.8],"labels":false,"title":null,"tickSize":-3,"tickWidth":1}}}}
 ]}
],
"config":{
 "font":"DejaVu Serif",
 "view":{"stroke":"black","strokeWidth":1.2},
 "axis":{"grid":false,"domain":false,"labelFont":"DejaVu Serif","titleFont":"DejaVu Serif","labelFontSize":19,"titleFontSize":19,"titleFontWeight":"normal","labelColor":"black","titleColor":"black","tickColor":"black","tickWidth":1.2,"labelFlush":false,"labelOverlap":false,"labelBound":false},
 "legend":{"labelFont":"DejaVu Serif","labelFontSize":19,"labelColor":"black","gradientVerticalMaxLength":1000,"gradientVerticalMinLength":100}
}
}
